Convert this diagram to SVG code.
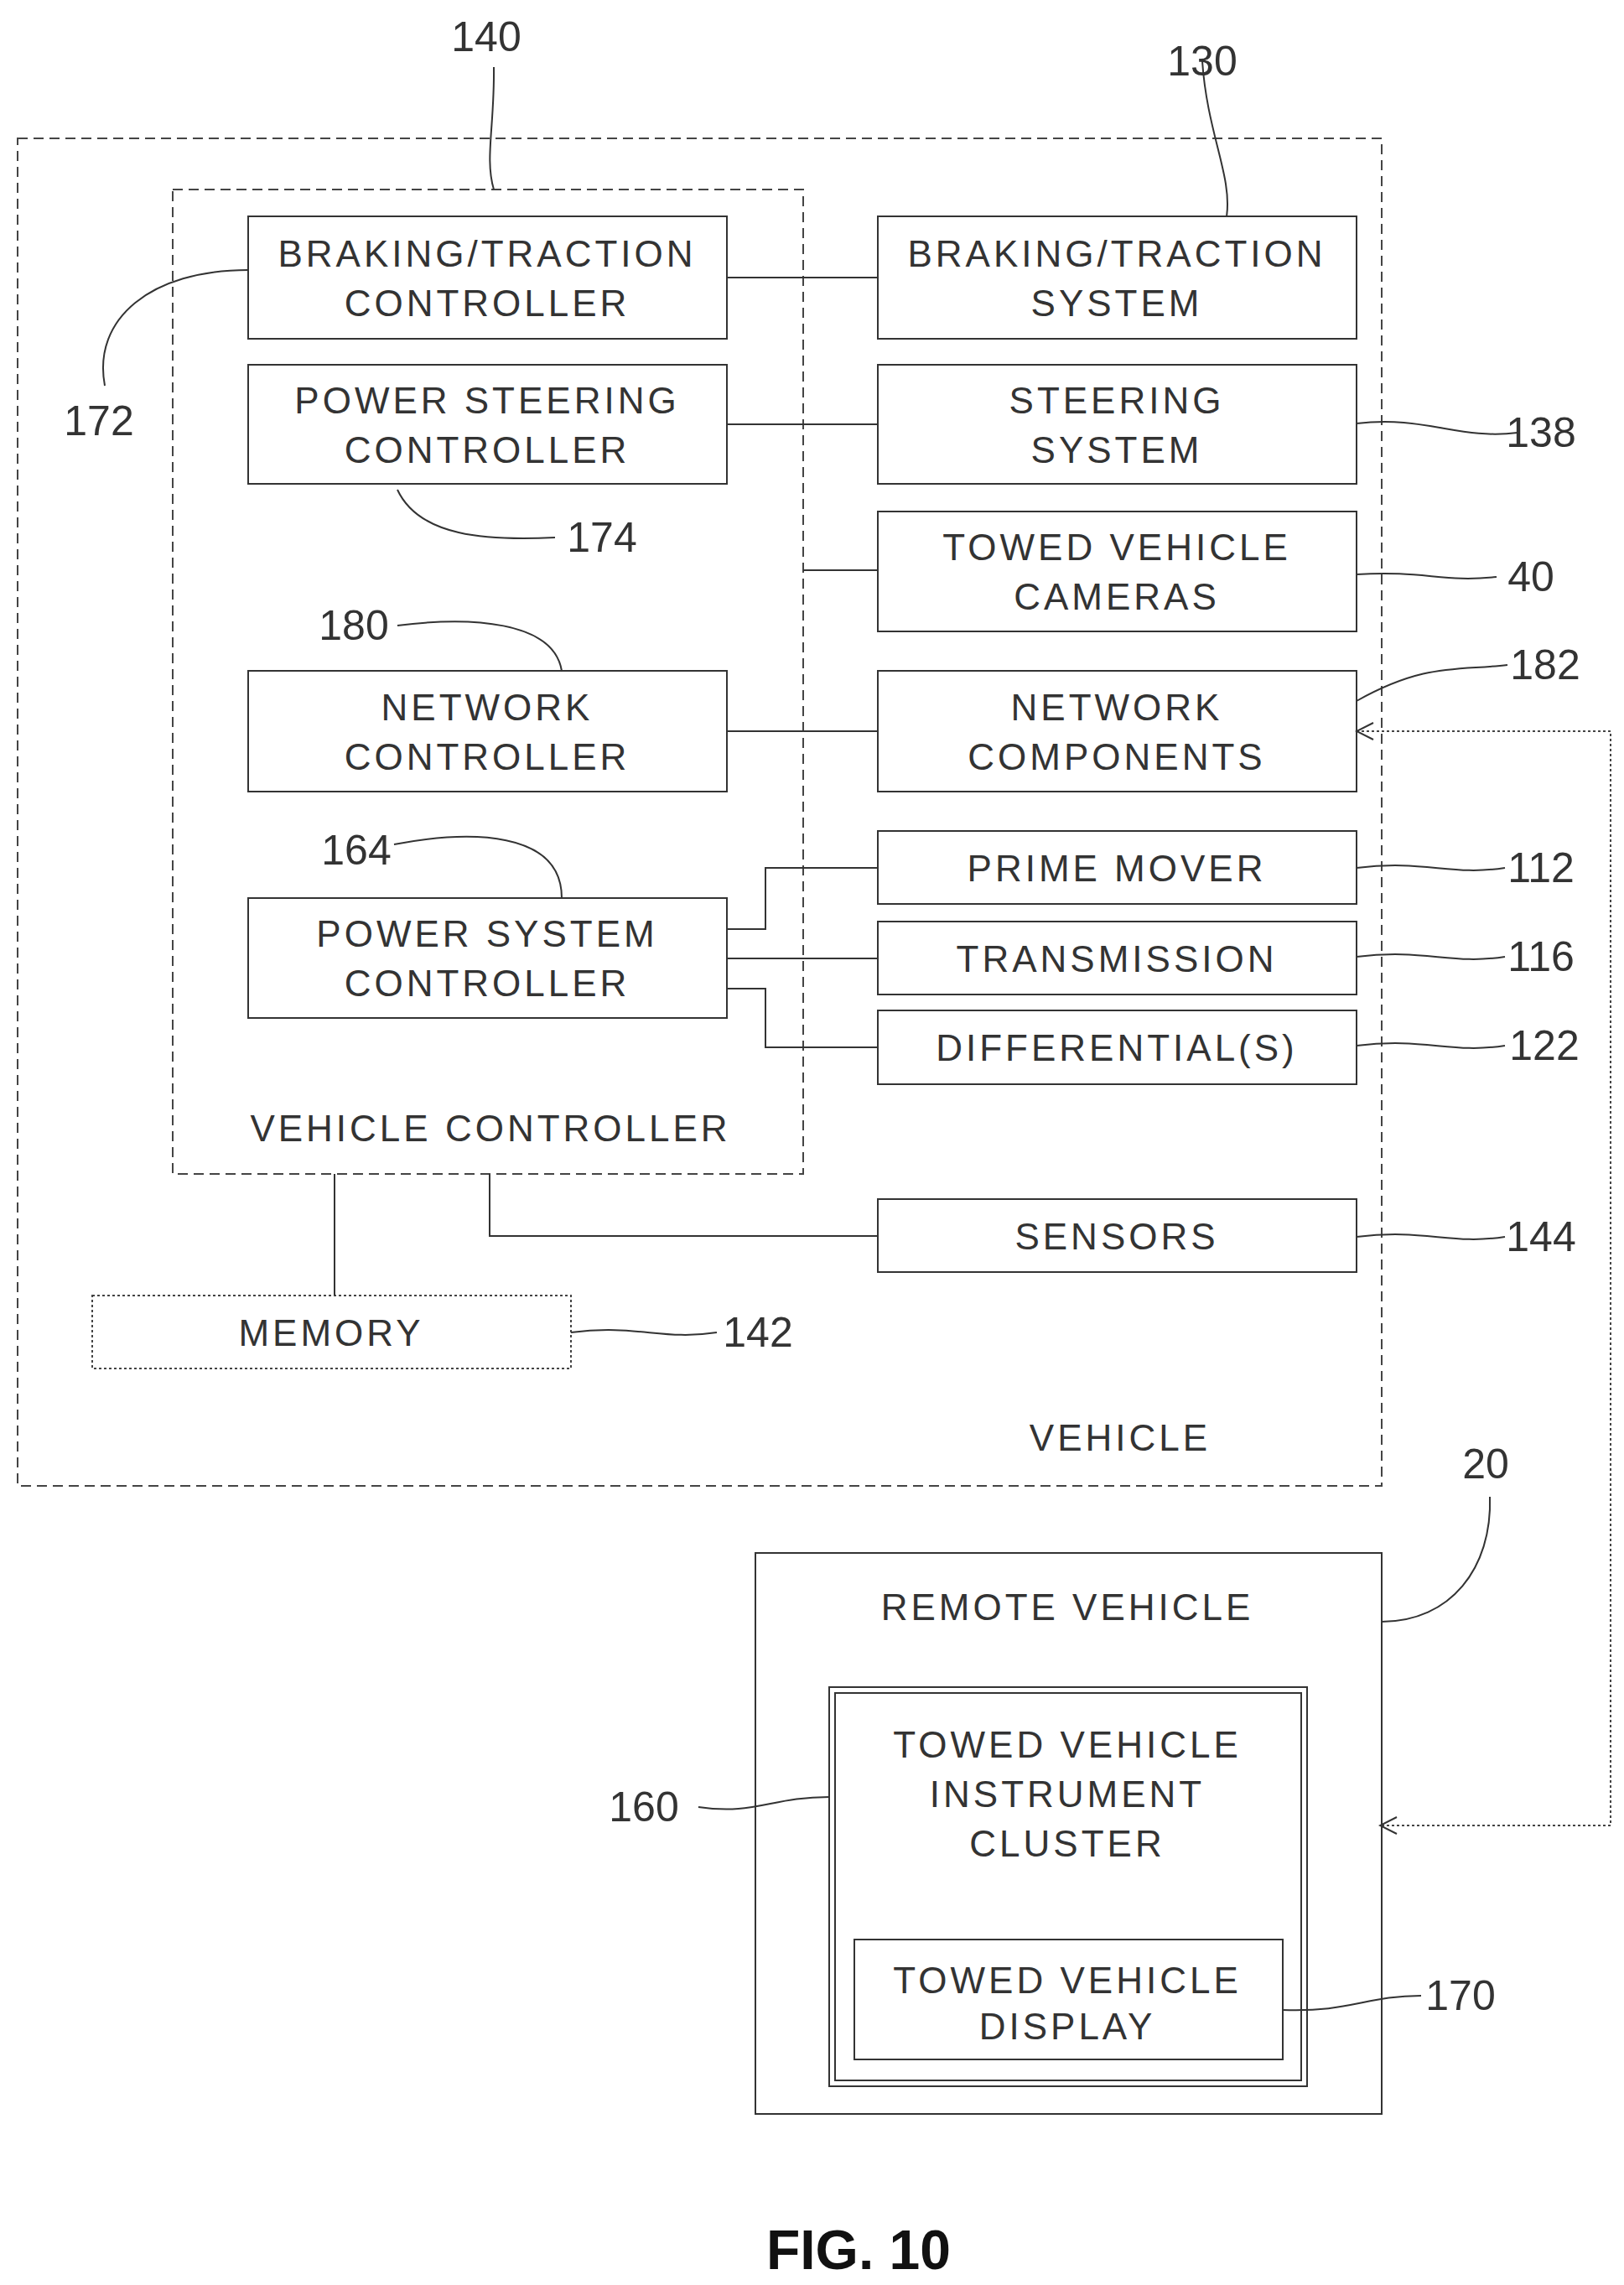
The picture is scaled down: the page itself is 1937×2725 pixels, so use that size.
<svg xmlns="http://www.w3.org/2000/svg" width="1937" height="2725" viewBox="0 0 1937 2725">
<style>
.b{fill:none;stroke:#333;stroke-width:2}
.d{fill:none;stroke:#444;stroke-width:2;stroke-dasharray:12 7}
.p{fill:none;stroke:#444;stroke-width:2;stroke-dasharray:3 3}
.c{fill:none;stroke:#333;stroke-width:2}
text{font-family:"Liberation Sans",Arial,sans-serif;font-size:44px;fill:#333;text-anchor:middle;dominant-baseline:central;letter-spacing:4px}
.n{font-size:50px;letter-spacing:0}
</style>
<defs><marker id="a" markerWidth="24" markerHeight="24" refX="22" refY="12" orient="auto-start-reverse" markerUnits="userSpaceOnUse"><path d="M2,2 L22,12 L2,22" fill="none" stroke="#333" stroke-width="2"/></marker></defs>
<rect fill="#fff" width="1937" height="2725"/>
<g id="vehicle"><rect class="d" x="21" y="165" width="1627" height="1607"/><text x="1336" y="1714">VEHICLE</text></g>
<g id="vehicle-controller"><rect class="d" x="206" y="226" width="752" height="1174"/><text x="585" y="1345">VEHICLE CONTROLLER</text></g>
<g id="braking-ctrl"><rect class="b" x="296" y="258" width="571" height="146"/><text x="581" y="302">BRAKING/TRACTION</text><text x="581" y="361">CONTROLLER</text></g>
<g id="steering-ctrl"><rect class="b" x="296" y="435" width="571" height="142"/><text x="581" y="477">POWER STEERING</text><text x="581" y="536">CONTROLLER</text></g>
<g id="network-ctrl"><rect class="b" x="296" y="800" width="571" height="144"/><text x="581" y="843">NETWORK</text><text x="581" y="902">CONTROLLER</text></g>
<g id="power-ctrl"><rect class="b" x="296" y="1071" width="571" height="143"/><text x="581" y="1113">POWER SYSTEM</text><text x="581" y="1172">CONTROLLER</text></g>
<g id="braking-sys"><rect class="b" x="1047" y="258" width="571" height="146"/><text x="1332" y="302">BRAKING/TRACTION</text><text x="1332" y="361">SYSTEM</text></g>
<g id="steering-sys"><rect class="b" x="1047" y="435" width="571" height="142"/><text x="1332" y="477">STEERING</text><text x="1332" y="536">SYSTEM</text></g>
<g id="cameras"><rect class="b" x="1047" y="610" width="571" height="143"/><text x="1332" y="652">TOWED VEHICLE</text><text x="1332" y="711">CAMERAS</text></g>
<g id="network-comp"><rect class="b" x="1047" y="800" width="571" height="144"/><text x="1332" y="843">NETWORK</text><text x="1332" y="902">COMPONENTS</text></g>
<g id="prime-mover"><rect class="b" x="1047" y="991" width="571" height="87"/><text x="1332" y="1035">PRIME MOVER</text></g>
<g id="transmission"><rect class="b" x="1047" y="1099" width="571" height="87"/><text x="1332" y="1143">TRANSMISSION</text></g>
<g id="differential"><rect class="b" x="1047" y="1205" width="571" height="88"/><text x="1332" y="1249">DIFFERENTIAL(S)</text></g>
<g id="sensors"><rect class="b" x="1047" y="1430" width="571" height="87"/><text x="1332" y="1474">SENSORS</text></g>
<g id="memory"><rect class="p" x="110" y="1545" width="571" height="87"/><text x="395" y="1589">MEMORY</text></g>
<g id="remote"><rect class="b" x="901" y="1852" width="747" height="669"/><text x="1273" y="1916">REMOTE VEHICLE</text></g>
<g id="cluster"><rect class="b" x="989" y="2012" width="570" height="476"/><rect class="b" x="996" y="2019" width="556" height="462"/><text x="1273" y="2080">TOWED VEHICLE</text><text x="1273" y="2139">INSTRUMENT</text><text x="1273" y="2198">CLUSTER</text></g>
<g id="display"><rect class="b" x="1019" y="2313" width="511" height="143"/><text x="1273" y="2361">TOWED VEHICLE</text><text x="1273" y="2416">DISPLAY</text></g>
<g id="connectors">
<path class="c" d="M867,331H1047M867,506H1047M958,680H1047M867,872H1047"/>
<path class="c" d="M867,1108H913V1035H1047M867,1143H1047M867,1179H913V1249H1047"/>
<path class="c" d="M584,1400V1474H1047M399,1400V1545"/>
<path class="p" d="M1618,872H1921V2177H1646" marker-start="url(#a)" marker-end="url(#a)"/>
<g class="c">
<path d="M589,80C590,150 578,190 589,226"/>
<path d="M1434,73C1440,160 1470,210 1463,258"/>
<path d="M125,460C110,380 180,322 296,322"/>
<path d="M1618,505C1700,495 1740,525 1810,516"/>
<path d="M474,584C500,640 580,645 662,641"/>
<path d="M1618,685C1700,680 1720,695 1785,688"/>
<path d="M474,746C560,735 660,740 670,800"/>
<path d="M1618,836C1700,790 1740,800 1798,793"/>
<path d="M470,1007C560,990 670,990 670,1071"/>
<path d="M1618,1035C1700,1025 1730,1045 1795,1035"/>
<path d="M1618,1141C1700,1131 1730,1151 1795,1141"/>
<path d="M1618,1247C1700,1237 1730,1257 1795,1247"/>
<path d="M1618,1475C1700,1465 1730,1485 1795,1475"/>
<path d="M681,1589C760,1579 790,1599 855,1589"/>
<path d="M1777,1785C1780,1870 1730,1934 1648,1934"/>
<path d="M833,2155C900,2165 920,2143 989,2143"/>
<path d="M1530,2397C1610,2400 1630,2380 1695,2380"/>
</g>
</g>
<g id="labels">
<text class="n" x="580" y="44">140</text><text class="n" x="1434" y="73">130</text><text class="n" x="118" y="502">172</text>
<text class="n" x="1838" y="516">138</text><text class="n" x="718" y="641">174</text><text class="n" x="1826" y="688">40</text>
<text class="n" x="422" y="746">180</text><text class="n" x="1843" y="793">182</text><text class="n" x="425" y="1014">164</text>
<text class="n" x="1838" y="1035">112</text><text class="n" x="1838" y="1141">116</text><text class="n" x="1842" y="1247">122</text>
<text class="n" x="1838" y="1475">144</text><text class="n" x="904" y="1589">142</text><text class="n" x="1772" y="1746">20</text>
<text class="n" x="768" y="2155">160</text><text class="n" x="1742" y="2380">170</text>
<text x="1024" y="2683" style="font-size:66px;font-weight:bold;letter-spacing:0;fill:#111">FIG. 10</text>
</g>
</svg>
